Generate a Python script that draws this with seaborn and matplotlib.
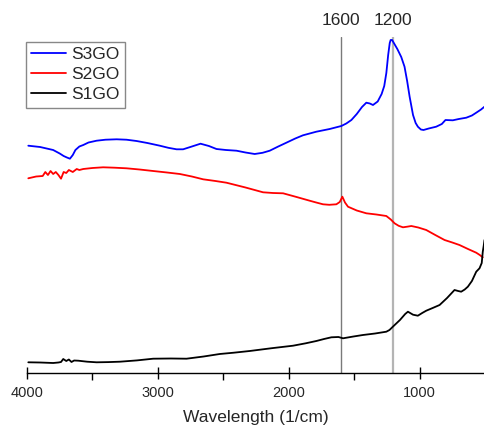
import pandas as pd
import matplotlib
matplotlib.use("Agg")
import matplotlib.pyplot as plt
import matplotlib.ticker as ticker
import seaborn as sns

sns.set_style("white")
plt.rcParams['font.family'] = ['Liberation Sans', 'DejaVu Sans']

# FTIR spectra (arbitrary intensity units)
wn_s3 = [3990, 3900, 3800, 3750, 3720, 3695, 3672, 3650, 3630, 3600, 3570, 3530,
         3468, 3400, 3315, 3240, 3163, 3080, 2985, 2920, 2857, 2807, 2740, 2674,
         2610, 2552, 2480, 2399, 2330, 2260, 2200, 2145, 2080, 2018, 1950, 1891,
         1789, 1687, 1598, 1560, 1521, 1480, 1440, 1407, 1380, 1356, 1320, 1290,
         1270, 1254, 1240, 1228, 1221, 1210, 1198, 1170, 1140, 1115, 1095, 1076,
         1050, 1030, 1013, 990, 970, 930, 873, 830, 802, 746, 700, 643, 600, 567,
         530, 504]
s3go = [227.3, 226, 223, 219.5, 217, 215.5, 214.3, 218, 223, 226.5, 228, 230.5,
        232.3, 233.3, 233.7, 233.3, 232, 230, 227.3, 225.2, 223.7, 223.7, 226.5, 229.3,
        227, 224, 223, 222.3, 220.5, 219, 220.2, 222.3, 226.5, 230.3, 234.5, 237.7,
        241.3, 244, 247, 249.5, 253, 259, 266, 270.3, 269.5, 268, 271.5, 279,
        287, 300, 318, 330, 333, 333, 330.3, 324, 316, 306.3, 292, 276.3,
        258, 250, 246.3, 243.5, 243, 244.5, 246.3, 249, 253, 252.7, 254, 255.3, 257.5,
        260.3, 263.5, 266.3]

wn_s2 = [3990, 3930, 3880, 3860, 3840, 3820, 3800, 3780, 3760, 3740, 3720, 3700,
         3680, 3650, 3620, 3600, 3570, 3500, 3418, 3330, 3239, 3140, 3036, 2930,
         2832, 2740, 2654, 2560, 2476, 2330, 2196, 2120, 2043, 1940, 1840, 1790,
         1738, 1690, 1636, 1610, 1590, 1570, 1547, 1480, 1407, 1330, 1254, 1220,
         1191, 1160, 1127, 1095, 1063, 1010, 949, 880, 809, 750, 695, 630, 567,
         540, 517]
s2go = [194.7, 196.5, 197, 201, 198, 202, 199, 201, 198, 194.3, 201, 200,
        203, 201, 204, 203, 204, 205, 205.7, 205.3, 204.7, 203.5, 202, 200.5,
        199, 196.5, 193.7, 192, 190.3, 185.5, 180.7, 180, 179.7, 176, 172.3, 170.5,
        168.7, 168.2, 168.7, 171, 176.3, 170.5, 166.3, 162.5, 159.7, 158.5, 157, 153.5,
        149.7, 147.2, 145.7, 146.3, 147, 145.5, 143, 138, 133, 130.5, 128, 124, 120.3,
        118, 115.7]

wn_s1 = [3990, 3900, 3800, 3760, 3740, 3723, 3700, 3680, 3660, 3640, 3608, 3540,
         3468, 3380, 3290, 3160, 3036, 2900, 2781, 2650, 2527, 2420, 2298, 2130,
         1967, 1870, 1789, 1730, 1674, 1620, 1585, 1510, 1433, 1340, 1254, 1230,
         1204, 1150, 1110, 1089, 1050, 1013, 980, 949, 900, 847, 790, 733, 705,
         682, 655, 631, 600, 567, 542, 525, 517, 510, 504]
s1go = [10.7, 10.5, 10, 10.5, 11, 14, 12, 13.5, 11, 12.5, 12.3, 11.3,
        10.7, 10.9, 11.3, 12.6, 14.3, 14.5, 14.3, 16.5, 19, 20.3, 22, 24.8,
        27.3, 29.7, 32, 34, 35.7, 36, 34.7, 36.4, 38, 39.5, 41.3, 43,
        46.3, 53, 59, 61.3, 58.3, 57.3, 60, 62.3, 65, 68, 75, 83, 82,
        81.3, 83.5, 86.3, 92, 101.3, 104.7, 110, 121.3, 127, 133]

series = [("S3GO", wn_s3, s3go, "#0000ff"),
          ("S2GO", wn_s2, s2go, "#ff0000"),
          ("S1GO", wn_s1, s1go, "#000000")]
marks = [(1600, "#7a7a7a", 1.0), (1200, "#b4b4b4", 1.6)]

fig = plt.figure(figsize=(4.85, 4.28), dpi=100)
ax = fig.add_axes([27 / 485, 1 - 373 / 428, 458 / 485, 336 / 428])

for name, wn, val, col in series:
    df = pd.DataFrame({"wn": wn, "val": val})
    sns.lineplot(data=df, x="wn", y="val", color=col, linewidth=1.3,
                 estimator=None, label=name, ax=ax)

for pos, col, lw in marks:
    ax.axvline(pos, color=col, linewidth=lw, zorder=0.5)
    ax.text(pos, 1.05, str(pos), transform=ax.get_xaxis_transform(),
            ha="center", va="center", fontsize=12.5)

ax.set_xlim(4000, 500)
ax.set_ylim(0, 336)
ax.xaxis.set_major_locator(ticker.MultipleLocator(1000))
ax.xaxis.set_minor_locator(ticker.MultipleLocator(500))
ax.tick_params(axis="x", which="major", direction="inout", length=9, width=1,
               labelsize=10.5, pad=5, bottom=True, color="black")
ax.tick_params(axis="x", which="minor", direction="out", length=5, width=1,
               bottom=True, color="black")
ax.set_yticks([])
ax.set_ylabel("")
ax.set_xlabel("Wavelength (1/cm)", fontsize=12.5, labelpad=7)

for s in ["left", "top", "right"]:
    ax.spines[s].set_visible(False)
ax.spines["bottom"].set_color("black")
ax.spines["bottom"].set_linewidth(1.0)

leg = ax.legend(loc="upper left", bbox_to_anchor=(-0.002, 0.985), borderaxespad=0,
                fontsize=12.5, frameon=True, fancybox=False, edgecolor="#888888",
                framealpha=1, handlelength=2.0, handletextpad=0.3,
                labelspacing=0.28, borderpad=0.3)
leg.get_frame().set_linewidth(1.0)

fig.savefig("out.png", dpi=100)
